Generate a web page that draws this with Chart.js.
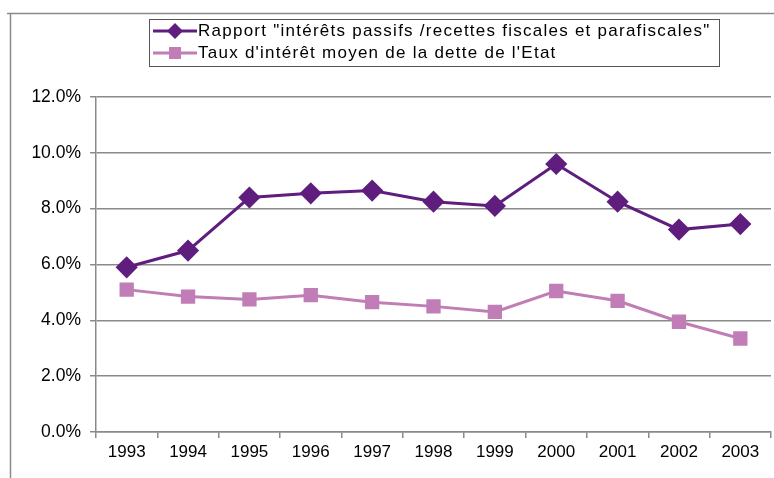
<!DOCTYPE html>
<html>
<head>
<meta charset="utf-8">
<script src="https://cdn.jsdelivr.net/npm/chart.js@4.4.0/dist/chart.umd.min.js"></script>
<style>
  html, body { margin: 0; padding: 0; background: #fff; }
  #wrap { width: 774px; height: 478px; position: relative; }
</style>
</head>
<body>
<div id="wrap"><canvas id="c"></canvas></div>
<script>
// ===== DATA =====
const years = ['1993','1994','1995','1996','1997','1998','1999','2000','2001','2002','2003'];
const rapport = [5.9, 6.5, 8.4, 8.55, 8.65, 8.25, 8.1, 9.6, 8.25, 7.25, 7.45];
const tauxMoyen = [5.1, 4.85, 4.75, 4.9, 4.65, 4.5, 4.3, 5.05, 4.7, 3.95, 3.35];
const seriesLabels = [
  'Rapport "intérêts passifs /recettes fiscales et parafiscales"',
  "Taux d'intérêt moyen de la dette de l'Etat"
];

const PURPLE = '#5f1e7e';
const PINK = '#c07db6';
const FONT = 'Liberation Sans, Arial, sans-serif';

// frame + boxed legend drawn by hand
const decor = {
  id: 'decor',
  afterDraw(chart) {
    const ctx = chart.ctx;
    ctx.save();
    ctx.strokeStyle = '#8a8a8a';
    ctx.lineWidth = 1.5;
    ctx.beginPath();
    ctx.moveTo(7, 13.5); ctx.lineTo(774, 13.5);
    ctx.moveTo(10.5, 13.5); ctx.lineTo(10.5, 478);
    ctx.stroke();

    // legend box
    ctx.strokeStyle = '#555';
    ctx.lineWidth = 1;
    ctx.strokeRect(149.5, 19.5, 570, 47);
    ctx.font = '17px ' + FONT;
    ctx.letterSpacing = '1.25px';
    ctx.textBaseline = 'middle';
    chart.data.datasets.forEach((ds, i) => {
      const y = 31 + i * 22;
      ctx.strokeStyle = ds.borderColor;
      ctx.lineWidth = 3;
      ctx.beginPath(); ctx.moveTo(153, y); ctx.lineTo(197, y); ctx.stroke();
      ctx.fillStyle = ds.borderColor;
      ctx.beginPath();
      if (ds.pointStyle === 'rectRot') {
        ctx.moveTo(175, y - 8); ctx.lineTo(183, y); ctx.lineTo(175, y + 8); ctx.lineTo(167, y);
      } else {
        ctx.rect(169, y - 6, 12, 12);
      }
      ctx.fill();
      ctx.fillStyle = '#000';
      ctx.fillText(ds.label, 198, y);
    });
    ctx.restore();
  }
};

new Chart(document.getElementById('c'), {
  type: 'line',
  data: {
    labels: years,
    datasets: [
      { label: seriesLabels[0], data: rapport, borderColor: PURPLE, backgroundColor: PURPLE,
        borderWidth: 3, pointStyle: 'rectRot', pointRadius: 9, pointHoverRadius: 9, tension: 0 },
      { label: seriesLabels[1], data: tauxMoyen, borderColor: PINK, backgroundColor: PINK,
        borderWidth: 3, pointStyle: 'rect', pointRadius: 8, pointHoverRadius: 8, tension: 0 }
    ]
  },
  options: {
    responsive: true,
    maintainAspectRatio: false,
    animation: false,
    layout: { autoPadding: false, padding: { left: 0, top: 97, right: 3, bottom: 0 } },
    plugins: { legend: { display: false }, tooltip: { enabled: false } },
    scales: {
      x: {
        offset: true,
        grid: { offset: true, drawOnChartArea: false, color: '#8a8a8a', lineWidth: 1.5, tickLength: 6 },
        border: { color: '#8a8a8a', width: 1.5 },
        ticks: { color: '#000', font: { family: FONT, size: 17 }, padding: 4, maxRotation: 0 },
        afterFit(s) { s.height = 46; s.paddingLeft = 0; s.paddingRight = 0; }
      },
      y: {
        min: 0, max: 12,
        ticks: { stepSize: 2, color: '#000', font: { family: FONT, size: 17.5 }, padding: 9,
          callback: v => v.toFixed(1) + '%' },
        grid: { color: '#8a8a8a', lineWidth: 1.5, tickLength: 6 },
        border: { color: '#8a8a8a', width: 1.5 },
        afterFit(s) { s.width = 96; }
      }
    }
  },
  plugins: [decor]
});
</script>
</body>
</html>
